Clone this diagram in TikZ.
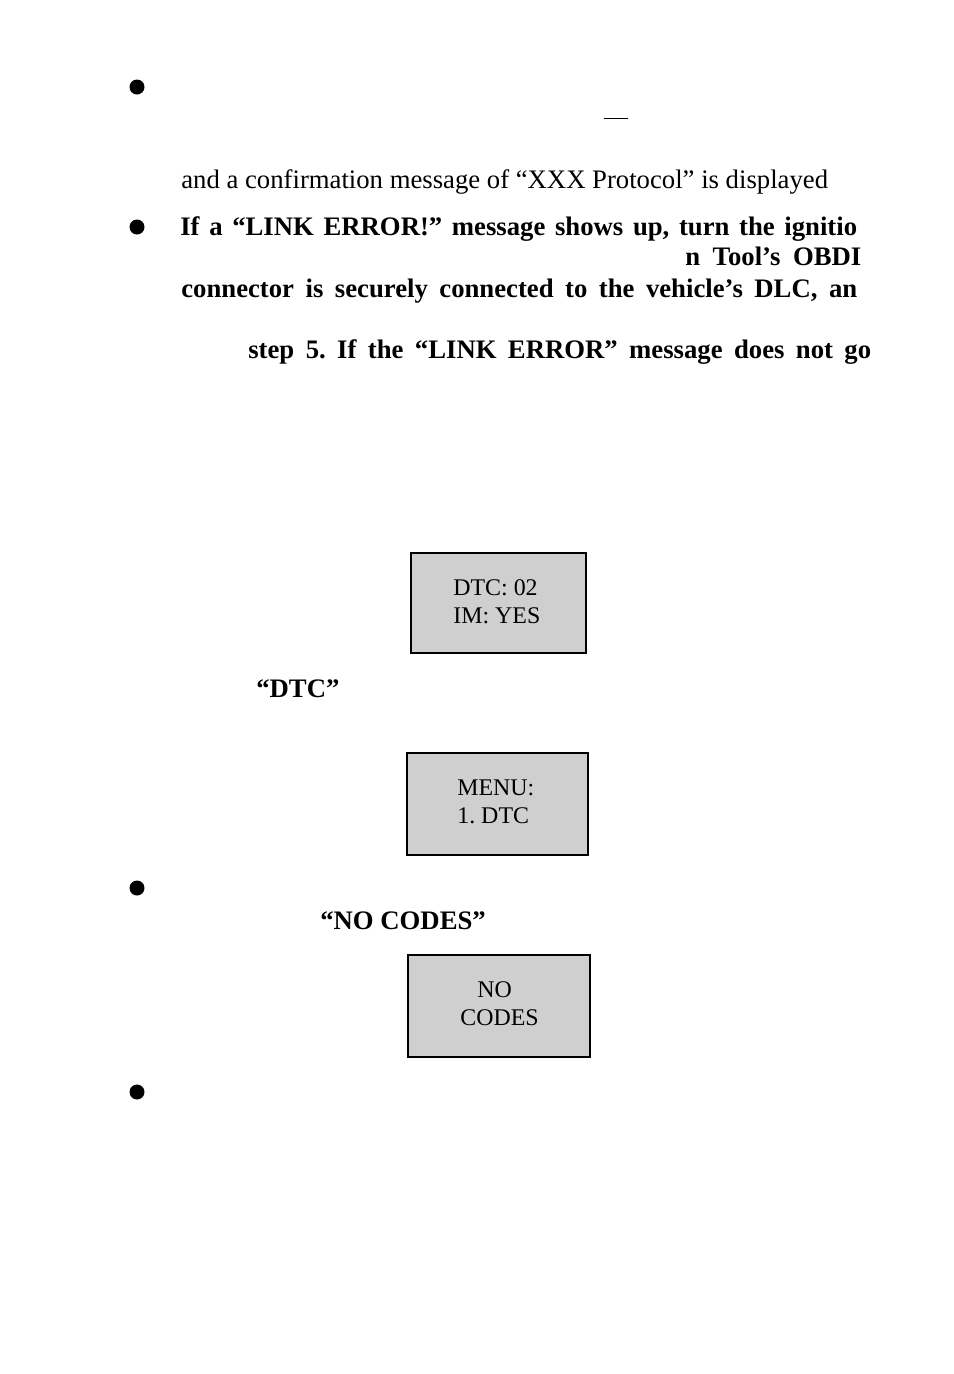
\documentclass[tikz,border=0pt]{standalone}
\usepackage{fontspec}
\setmainfont{Liberation Serif}
\frenchspacing
\begin{document}
\begin{tikzpicture}[x=0.02cm,y=-0.02cm]
  \tikzset{every node/.style={inner sep=0pt},
    body/.style={anchor=base west,font=\fontsize{15.2}{18}\selectfont},
    bold/.style={anchor=base west,font=\fontsize{15.2}{18}\selectfont\bfseries},
    screen/.style={draw=black,line width=1.6pt,fill=black!19},
    lcd/.style={anchor=base west,font=\fontsize{13.6}{16}\selectfont}}
  \useasboundingbox (0,0) rectangle (954,1374);
  % bullets
  \foreach \yy in {87,227,888,1092}
    \fill (137,\yy) circle (7.5);
  \draw[line width=0.5pt] (604,118) -- (628,118);
  % text lines
  \node[body] (t1) at (181,188) {and a confirmation message of “XXX Protocol” is displayed};
  \node[bold] (t2) at (180,235) {\makebox[13.54cm][s]{If a “LINK ERROR!” message shows up, turn the ignitio}};
  \node[bold] (t3) at (685,265) {\makebox[3.52cm][s]{n Tool’s OBDI}};
  \node[bold] (t4) at (181,297) {\makebox[13.52cm][s]{connector is securely connected to the vehicle’s DLC, an}};
  \node[bold] (t5) at (248,358) {\makebox[12.46cm][s]{step 5. If the “LINK ERROR” message does not go}};
  \node[bold] (t6) at (256,697) {“DTC”};
  \node[bold] (t7) at (320,929) {“NO CODES”};
  % screens
  \draw[screen] (411,553) rectangle (586,653);
  \node[lcd] (s1a) at (453,595) {DTC: 02};
  \node[lcd] (s1b) at (453,623) {IM: YES};
  \draw[screen] (407,753) rectangle (588,855);
  \node[lcd] (s2a) at (457,795) {MENU:};
  \node[lcd] (s2b) at (457,823) {1. DTC};
  \draw[screen] (408,955) rectangle (590,1057);
  \node[lcd] (s3a) at (477,997) {NO};
  \node[lcd] (s3b) at (460,1025) {CODES};
\end{tikzpicture}
\end{document}
